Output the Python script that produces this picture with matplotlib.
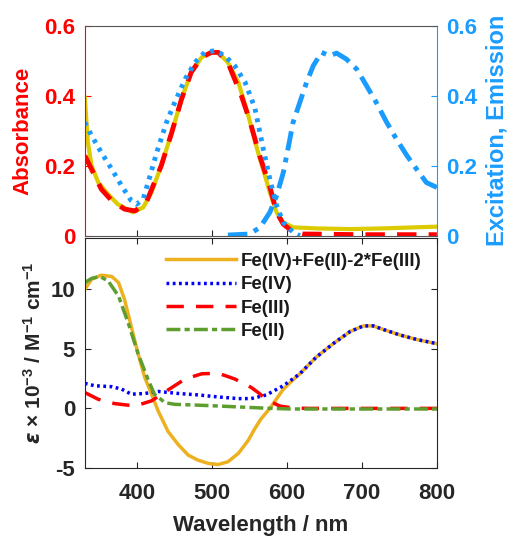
import numpy as np
import matplotlib
matplotlib.use("Agg")
import matplotlib.pyplot as plt

plt.rcParams['font.family'] = ['Liberation Sans', 'DejaVu Sans']
plt.rcParams['font.weight'] = 'bold'
plt.rcParams['axes.unicode_minus'] = False
plt.rcParams['mathtext.fontset'] = 'custom'
plt.rcParams['mathtext.rm'] = 'Liberation Sans:bold'
plt.rcParams['mathtext.bf'] = 'Liberation Sans:bold'
plt.rcParams['mathtext.it'] = 'DejaVu Sans:italic'
plt.rcParams['mathtext.default'] = 'bf'

# top panel: absorbance (yellow solid, red dashed)
wl_y = [330, 334, 339, 348, 361, 374, 394, 408, 419, 432, 446, 459, 472, 486, 499, 508, 521, 535,
        548, 561, 570, 577, 586, 595, 608, 639, 684, 728, 800]
abs_yellow = [0.395, 0.267, 0.20, 0.152, 0.119, 0.09, 0.067, 0.081, 0.124, 0.20, 0.295, 0.39, 0.467,
              0.51, 0.524, 0.524, 0.495, 0.438, 0.345, 0.24, 0.175, 0.124, 0.067, 0.038, 0.024,
              0.021, 0.019, 0.021, 0.026]
wl_r = [330, 339, 352, 366, 383, 397, 412, 432, 446, 459, 472, 486, 499, 508, 521, 539, 550, 564,
        577, 586, 595, 608, 621, 700, 800]
abs_red = [0.229, 0.19, 0.133, 0.10, 0.076, 0.071, 0.095, 0.20, 0.295, 0.39, 0.467, 0.51, 0.524,
           0.524, 0.495, 0.40, 0.33, 0.225, 0.14, 0.067, 0.033, 0.011, 0.005, 0.003, 0.003]
# excitation (dotted) and emission (dash-dot)
wl_exc = [330, 339, 352, 366, 379, 392, 399, 408, 417, 426, 439, 450, 464, 477, 490, 504, 517, 530,
          544, 557, 568, 577, 586, 595, 608, 617]
exc = [0.324, 0.286, 0.238, 0.19, 0.143, 0.10, 0.09, 0.105, 0.171, 0.238, 0.324, 0.381, 0.448,
       0.495, 0.524, 0.529, 0.514, 0.486, 0.438, 0.365, 0.25, 0.162, 0.086, 0.038, 0.01, 0.0]
wl_em = [521, 550, 564, 577, 586, 595, 602, 608, 617, 626, 635, 646, 657, 666, 679, 693, 706, 719,
         733, 746, 760, 773, 786, 800]
em = [0.002, 0.005, 0.024, 0.067, 0.114, 0.181, 0.257, 0.324, 0.381, 0.438, 0.486, 0.524, 0.514,
      0.522, 0.505, 0.476, 0.429, 0.381, 0.324, 0.276, 0.229, 0.19, 0.152, 0.138]

# bottom panel: extinction coefficients (x 10^-3 M^-1 cm^-1)
wl_d = [330, 339, 352, 366, 375, 383, 392, 401, 410, 419, 428, 441, 455, 468, 481, 495, 508, 521,
        535, 548, 556, 565, 577, 595, 608, 617, 639, 662, 684, 702, 715, 728, 751, 773, 800]
diff = [9.98, 10.83, 11.17, 11.06, 10.55, 9.13, 6.86, 4.6, 2.6, 1.2, -0.23, -1.93, -3.06, -3.92,
        -4.34, -4.62, -4.71, -4.48, -3.77, -2.7, -1.8, -0.9, 0.0, 1.61, 2.4, 2.9, 4.3, 5.45, 6.44,
        6.92, 6.92, 6.63, 6.15, 5.78, 5.43]
wl_4 = [330, 343, 366, 379, 392, 410, 428, 455, 481, 508, 535, 552, 572, 595, 617, 639, 662, 684,
        702, 715, 728, 751, 773, 800]
fe4 = [2.1, 1.9, 1.82, 1.62, 1.19, 1.25, 1.42, 1.25, 1.13, 0.96, 0.82, 0.82, 1.12, 1.9, 2.9, 4.3,
       5.45, 6.44, 6.92, 6.92, 6.63, 6.15, 5.78, 5.43]
wl_3 = [330, 348, 370, 397, 419, 441, 464, 486, 508, 530, 552, 562, 572, 590, 608, 630, 800]
fe3 = [1.33, 0.76, 0.4, 0.2, 0.63, 1.54, 2.47, 2.9, 2.95, 2.47, 1.76, 1.3, 0.76, 0.2, 0.03, 0.0, 0.0]
wl_2 = [330, 339, 350, 361, 375, 388, 401, 415, 423, 437, 450, 477, 508, 539, 570, 604, 700, 800]
fe2 = [10.55, 10.9, 11.06, 10.7, 9.42, 7.15, 4.6, 2.32, 1.19, 0.48, 0.34, 0.28, 0.2, 0.11, 0.02,
       -0.05, -0.05, -0.05]
labels = ['Fe(IV)+Fe(II)-2*Fe(III)', 'Fe(IV)', 'Fe(III)', 'Fe(II)']

fig = plt.figure(figsize=(5.08, 5.37), dpi=100)
ax1 = fig.add_axes([0.167, 0.561, 0.693, 0.391])
ax2 = ax1.twinx()
ax3 = fig.add_axes([0.167, 0.1285, 0.693, 0.4285])

red = '#FF0000'
lblue = '#1A9CFF'
dark = '#262626'

ax1.plot(wl_y, abs_yellow, color='#DCCB00', lw=3)
ax1.plot(wl_r, abs_red, color=red, lw=3.5, ls=(0, (4, 2.5)))
ax2.plot(wl_exc, exc, color=lblue, lw=3.5, ls=(0, (0.8, 1.2)))
ax2.plot(wl_em, em, color=lblue, lw=3.5, ls=(0, (4, 1.5, 1, 1.5)))

for a in (ax1, ax2):
    a.set_xlim(330, 800)
    a.set_ylim(0, 0.6)
    a.set_yticks([0, 0.2, 0.4, 0.6])
    a.set_yticklabels(['0', '0.2', '0.4', '0.6'])
ax1.set_xticks([400, 500, 600, 700])
ax1.set_xticklabels([])
ax1.tick_params(axis='x', direction='in', length=4, color=dark)
ax1.tick_params(axis='y', direction='in', length=4, colors=red, labelsize=16, pad=7)
ax2.tick_params(axis='y', direction='in', length=4, colors=lblue, labelsize=16, pad=7)
ax1.set_ylabel('Absorbance', color=red, fontsize=16, fontweight='bold', labelpad=8)
ax2.set_ylabel('Excitation, Emission', color=lblue, fontsize=17, fontweight='bold', labelpad=6)
ax2.spines['left'].set_color(red)
ax2.spines['right'].set_color(lblue)
ax2.spines['top'].set_color('#555555')
ax2.spines['bottom'].set_color('#555555')
for s in ax1.spines.values():
    s.set_visible(False)

ax3.plot(wl_d, diff, color='#EDB120', lw=2.5, label=labels[0])
ax3.plot(wl_4, fe4, color='#0000FF', lw=2.5, ls=(0, (0.8, 1.0)), label=labels[1])
ax3.plot(wl_3, fe3, color=red, lw=2.5, ls=(0, (5, 3.5)), label=labels[2])
ax3.plot(wl_2, fe2, color='#5E9E2E', lw=2.5, ls=(0, (4, 1.2, 1.5, 1.2)), label=labels[3])
ax3.set_xlim(330, 800)
ax3.set_ylim(-5, 14.3)
ax3.set_xticks([400, 500, 600, 700, 800])
ax3.set_yticks([-5, 0, 5, 10])
ax3.tick_params(direction='in', length=4, colors=dark, labelsize=16, top=True, right=True)
ax3.tick_params(axis='x', pad=11)
ax3.tick_params(axis='y', pad=7)
for s in ax3.spines.values():
    s.set_color(dark)
ax3.set_xlabel('Wavelength / nm', color=dark, fontsize=16, fontweight='bold', labelpad=8)
ax3.set_ylabel(r'$\it{\epsilon}$ × 10$^{-3}$ / M$^{-1}$ cm$^{-1}$', color=dark, fontsize=15,
               fontweight='bold', labelpad=4)
leg = ax3.legend(loc='upper right', frameon=False, handlelength=3.7,
                 handletextpad=0.3, labelspacing=0.33, borderaxespad=0.4,
                 prop={'weight': 'bold', 'size': 13.5})
for t in leg.get_texts():
    t.set_color('#1a1a1a')

fig.savefig('out.png', dpi=100)
